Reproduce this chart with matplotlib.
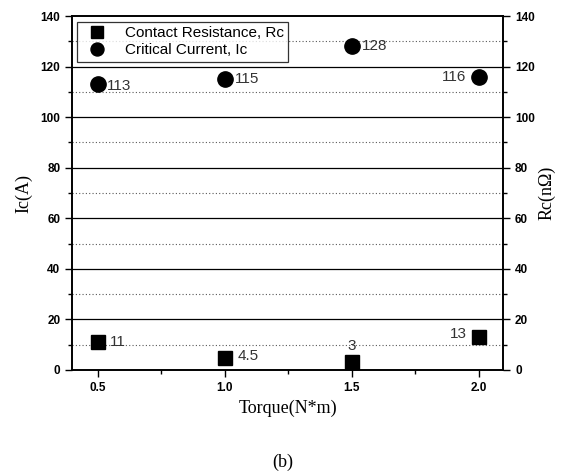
import numpy as np
import matplotlib.pyplot as plt
from matplotlib.ticker import MultipleLocator

torque = [0.5, 1.0, 1.5, 2.0]
ic_vals = [113, 115, 128, 116]
rc_vals = [11, 4.5, 3, 13]
ic_labels = ['113', '115', '128', '116']
rc_labels = ['11', '4.5', '3', '13']

fig = plt.figure(figsize=(5.68, 4.76), dpi=100)
ax = fig.add_axes([0.127, 0.223, 0.759, 0.743])
ax2 = ax.twinx()

ax.set_xlim(0.4, 2.095)
ax.set_ylim(0, 140)
ax2.set_ylim(0, 140)

# grid: solid at majors, dotted at minors
for y in range(20, 140, 20):
    ax.axhline(y, color='black', lw=0.9, zorder=0)
for y in range(10, 140, 20):
    ax.axhline(y, color='0.35', lw=0.8, ls=(0, (1, 2)), zorder=0)

ax2.plot(torque, rc_vals, 's', color='black', ms=10, ls='none', label='Contact Resistance, Rc')
ax.plot(torque, ic_vals, 'o', color='black', ms=11, ls='none', label='Critical Current, Ic')

lab_font = dict(fontsize=11, family='Liberation Sans', color='0.2')
offs_ic = [(7, -1, 'left', 'center'), (7, 0, 'left', 'center'),
           (7, 0, 'left', 'center'), (-9, 0, 'right', 'center')]
for x, y, t, (dx, dy, ha, va) in zip(torque, ic_vals, ic_labels, offs_ic):
    ax.annotate(t, (x, y), xytext=(dx, dy), textcoords='offset points', ha=ha, va=va, **lab_font)
offs_rc = [(9, 0, 'left', 'center'), (9, 2, 'left', 'center'),
           (0, 7, 'center', 'bottom'), (-9, 2, 'right', 'center')]
for x, y, t, (dx, dy, ha, va) in zip(torque, rc_vals, rc_labels, offs_rc):
    ax2.annotate(t, (x, y), xytext=(dx, dy), textcoords='offset points', ha=ha, va=va, **lab_font)

for a in (ax, ax2):
    a.yaxis.set_major_locator(MultipleLocator(20))
    a.yaxis.set_minor_locator(MultipleLocator(10))
    a.tick_params(axis='both', which='major', direction='out', length=5, width=1,
                  labelsize=8.5)
    a.tick_params(axis='both', which='minor', direction='out', length=3, width=1)
    for s in a.spines.values():
        s.set_linewidth(1.2)
ax.xaxis.set_major_locator(MultipleLocator(0.5))
ax.xaxis.set_minor_locator(MultipleLocator(0.25))
ax.set_xticks([0.5, 1.0, 1.5, 2.0])
ax.set_xticklabels(['0.5', '1.0', '1.5', '2.0'])
for a in (ax, ax2):
    for lbl in a.get_yticklabels() + a.get_xticklabels():
        lbl.set_fontweight('bold')
        lbl.set_family('Liberation Sans')

ax.set_ylabel('Ic(A)', family='Liberation Serif', fontsize=13, labelpad=6)
ax2.set_ylabel('Rc(n\u03a9)', family='Liberation Serif', fontsize=13, labelpad=2)
ax.set_xlabel('Torque(N*m)', family='Liberation Serif', fontsize=13, labelpad=4)
fig.text(0.498, 0.018, '(b)', family='Liberation Serif', fontsize=13, ha='center')

h1, l1 = ax2.get_legend_handles_labels()
h2, l2 = ax.get_legend_handles_labels()
leg = ax.legend(h1 + h2, l1 + l2, loc='upper left', bbox_to_anchor=(0.0, 1.0),
                borderaxespad=0.35,
                prop={'family': 'Liberation Sans', 'size': 11}, frameon=True,
                fancybox=False, edgecolor='black', borderpad=0.3, labelspacing=0.2,
                handletextpad=0.8, markerscale=0.85)
leg.get_frame().set_linewidth(0.9)
leg.set_zorder(5)

fig.savefig('out.png', dpi=100)
